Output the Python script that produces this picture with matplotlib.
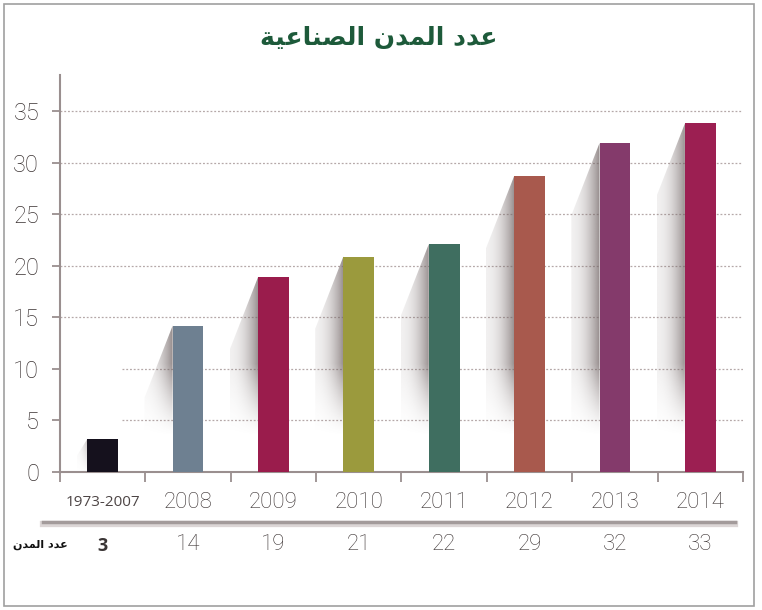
import numpy as np
import matplotlib
matplotlib.use("Agg")
import matplotlib.pyplot as plt
from matplotlib.patches import Polygon, Rectangle
from matplotlib.lines import Line2D

# data
periods = ["1973-2007", "2008", "2009", "2010", "2011", "2012", "2013", "2014"]
city_counts = [3, 14, 19, 21, 22, 29, 32, 33]
bar_heights = [3.2, 14.2, 18.9, 20.9, 22.1, 28.7, 31.9, 33.8]
bar_colors = ["#15111d", "#6e8091", "#9a1c4c", "#9b9a3d", "#3f6e60",
              "#a8594d", "#843a6b", "#9c1f52"]
y_ticks = [0, 5, 10, 15, 20, 25, 30, 35]

# Arabic in presentation forms, reversed for left-to-right drawing
title_ar = "\uFECB\uFEAA\uFEA9 \uFE8D\uFEDF\uFEE4\uFEAA\uFEE5 \uFE8D\uFEDF\uFEBC\uFEE8\uFE8E\uFECB\uFEF4\uFE94"[::-1]
row_label_ar = "\uFECB\uFEAA\uFEA9 \uFE8D\uFEDF\uFEE4\uFEAA\uFEE5"[::-1]

NUM_FONT = dict(family="Roboto", weight="light", stretch="condensed")
TXT = "#3a3232"
AX = "#9a8f8f"

fig = plt.figure(figsize=(7.62, 6.10), dpi=100)
ax = fig.add_axes([0.0787, 0.2262, 0.8963, 0.6508])

x = np.arange(len(periods))
bw = 0.36
ax.bar(x, bar_heights, width=bw, color=bar_colors, zorder=3)

# soft shadows left of each bar
for i, h in enumerate(bar_heights):
    xl = i - bw / 2
    d = 0.33 if h > 5 else 0.12
    drop = min(7.0, h * 0.5)
    poly = Polygon([(xl, 0), (xl, h), (xl - d, h - drop), (xl - d, 0)],
                   closed=True, facecolor="none", edgecolor="none")
    ax.add_patch(poly)
    gx = np.linspace(0, 1, 60)
    gy = np.linspace(0, h, 200)
    hor = 0.10 + 0.65 * gx ** 2
    if h > 5:
        ver = np.clip((gy - 3.5) / 7.0, 0, 1) ** 1.3
    else:
        ver = np.clip(gy / h, 0, 1) * 0.6
    alpha = ver[:, None] * hor[None, :]
    img = np.zeros((len(gy), len(gx), 4))
    img[..., 0] = 0.45
    img[..., 1] = 0.40
    img[..., 2] = 0.40
    img[..., 3] = alpha
    im = ax.imshow(img, extent=(xl - d, xl, 0, h), origin="lower",
                   aspect="auto", zorder=2, interpolation="bilinear")
    im.set_clip_path(poly)

# dotted grid
for yv in y_ticks[1:]:
    x0 = 0.23 if yv <= 10 else -0.5
    ax.hlines(yv, x0, 7.5, colors="#b5a8a8", linestyles=(0, (1.5, 1.5)),
              linewidth=0.9, zorder=1)

ax.set_xlim(-0.5, 7.5)
ax.set_ylim(0, 38.5)
ax.set_yticks(y_ticks)
ax.set_yticklabels([str(v) for v in y_ticks], fontsize=17, color=TXT, **NUM_FONT)
ax.set_xticks(np.arange(-0.5, 8.0, 1.0))
ax.set_xticklabels([])
ax.tick_params(axis="y", length=6, width=1.3, color=AX, pad=9)
ax.tick_params(axis="x", length=7, width=1.3, color=AX)
for side in ["top", "right"]:
    ax.spines[side].set_visible(False)
for side in ["left", "bottom"]:
    ax.spines[side].set_color(AX)
    ax.spines[side].set_linewidth(1.5)

# table under the axis
tr = ax.get_xaxis_transform()
for i, (p, c) in enumerate(zip(periods, city_counts)):
    if i == 0:
        ax.text(i, -0.078, p, transform=tr, ha="center", va="center",
                fontsize=11, color="#4d4545", family="Open Sans")
        ax.text(i, -0.186, str(c), transform=tr, ha="center", va="center",
                fontsize=13, color="#3a3535", weight="bold", family="Open Sans")
    else:
        ax.text(i, -0.078, p, transform=tr, ha="center", va="center",
                fontsize=16, color=TXT, **NUM_FONT)
        ax.text(i, -0.182, str(c), transform=tr, ha="center", va="center",
                fontsize=16, color=TXT, **NUM_FONT)

fig.add_artist(Line2D([0.057, 0.965], [0.141, 0.141], color="#dcd6d6",
                      linewidth=4.5, transform=fig.transFigure))
fig.add_artist(Line2D([0.057, 0.965], [0.145, 0.145], color="#a39b9b",
                      linewidth=2.5, transform=fig.transFigure))
fig.text(0.053, 0.106, row_label_ar, ha="center", va="center", fontsize=8,
         weight="bold", color="#111111", family="DejaVu Sans")

fig.text(0.497, 0.938, title_ar, ha="center", va="center", fontsize=18,
         weight="bold", color="#1d5a3a", family="DejaVu Sans")

fig.add_artist(Rectangle((0.005, 0.007), 0.985, 0.987, fill=False,
                         edgecolor="#a0a0a0", linewidth=1.2,
                         transform=fig.transFigure))

fig.savefig("out.png", dpi=100)
